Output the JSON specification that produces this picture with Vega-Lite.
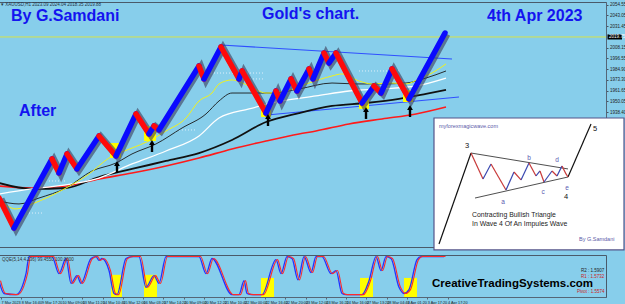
{
  "$schema": "https://vega.github.io/schema/vega-lite/v6.json",
  "background": "#87ceeb",
  "padding": {"left": -14, "top": 1, "right": 0, "bottom": 0},
  "spacing": 8,
  "bounds": "flush",
  "config": {
    "view": {"stroke": "#4a5a6a", "strokeWidth": 1},
    "font": "Liberation Sans",
    "axis": {"labelFont": "Liberation Sans", "grid": false, "title": null}
  },
  "datasets": {
    "renko": [
      {"s":0,"d":"down","x":0,"p":1845.8},{"s":0,"d":"down","x":15,"p":1813.4},
      {"s":1,"d":"up","x":15,"p":1813.4},{"s":1,"d":"up","x":53,"p":1888.0},
      {"s":2,"d":"down","x":53,"p":1888.0},{"s":2,"d":"down","x":60,"p":1872.8},
      {"s":3,"d":"up","x":60,"p":1872.8},{"s":3,"d":"up","x":68,"p":1893.4},
      {"s":4,"d":"down","x":68,"p":1893.4},{"s":4,"d":"down","x":78,"p":1877.2},
      {"s":5,"d":"up","x":78,"p":1877.2},{"s":5,"d":"up","x":100,"p":1912.8},
      {"s":6,"d":"down","x":100,"p":1912.8},{"s":6,"d":"down","x":117,"p":1891.2},
      {"s":7,"d":"up","x":117,"p":1891.2},{"s":7,"d":"up","x":137,"p":1936.6},
      {"s":8,"d":"down","x":137,"p":1936.6},{"s":8,"d":"down","x":150,"p":1915.0},
      {"s":9,"d":"up","x":150,"p":1915.0},{"s":9,"d":"up","x":155,"p":1923.6},
      {"s":10,"d":"down","x":155,"p":1923.6},{"s":10,"d":"down","x":160,"p":1919.3},
      {"s":11,"d":"up","x":160,"p":1919.3},{"s":11,"d":"up","x":200,"p":1988.4},
      {"s":12,"d":"down","x":200,"p":1988.4},{"s":12,"d":"down","x":205,"p":1974.4},
      {"s":13,"d":"up","x":205,"p":1974.4},{"s":13,"d":"up","x":222,"p":2008.9},
      {"s":14,"d":"down","x":222,"p":2008.9},{"s":14,"d":"down","x":240,"p":1974.4},
      {"s":15,"d":"up","x":240,"p":1974.4},{"s":15,"d":"up","x":243,"p":1983.0},
      {"s":16,"d":"down","x":243,"p":1983.0},{"s":16,"d":"down","x":267,"p":1937.6},
      {"s":17,"d":"up","x":267,"p":1937.6},{"s":17,"d":"up","x":277,"p":1961.4},
      {"s":18,"d":"down","x":277,"p":1961.4},{"s":18,"d":"down","x":281,"p":1950.6},
      {"s":19,"d":"up","x":281,"p":1950.6},{"s":19,"d":"up","x":292,"p":1974.4},
      {"s":20,"d":"down","x":292,"p":1974.4},{"s":20,"d":"down","x":298,"p":1961.4},
      {"s":21,"d":"up","x":298,"p":1961.4},{"s":21,"d":"up","x":310,"p":1985.2},
      {"s":22,"d":"down","x":310,"p":1985.2},{"s":22,"d":"down","x":314,"p":1974.4},
      {"s":23,"d":"up","x":314,"p":1974.4},{"s":23,"d":"up","x":325,"p":2002.4},
      {"s":24,"d":"down","x":325,"p":2002.4},{"s":24,"d":"down","x":330,"p":1991.6},
      {"s":25,"d":"up","x":330,"p":1991.6},{"s":25,"d":"up","x":337,"p":2002.4},
      {"s":26,"d":"down","x":337,"p":2002.4},{"s":26,"d":"down","x":363,"p":1948.4},
      {"s":27,"d":"up","x":363,"p":1948.4},{"s":27,"d":"up","x":375,"p":1966.8},
      {"s":28,"d":"down","x":375,"p":1966.8},{"s":28,"d":"down","x":382,"p":1959.2},
      {"s":29,"d":"up","x":382,"p":1959.2},{"s":29,"d":"up","x":393,"p":1985.2},
      {"s":30,"d":"down","x":393,"p":1985.2},{"s":30,"d":"down","x":410,"p":1952.8},
      {"s":31,"d":"up","x":410,"p":1952.8},{"s":31,"d":"up","x":446,"p":2024.0}
    ],
    "ma": [
      {"m":"yellow","x":0,"p":1844.8},{"m":"yellow","x":17,"p":1834.0},{"m":"yellow","x":33,"p":1839.4},{"m":"yellow","x":67,"p":1856.6},{"m":"yellow","x":90,"p":1871.8},{"m":"yellow","x":110,"p":1889.0},{"m":"yellow","x":133,"p":1899.8},{"m":"yellow","x":150,"p":1907.4},{"m":"yellow","x":167,"p":1918.2},{"m":"yellow","x":187,"p":1932.2},{"m":"yellow","x":200,"p":1950.6},{"m":"yellow","x":213,"p":1959.2},{"m":"yellow","x":220,"p":1969.0},{"m":"yellow","x":233,"p":1973.3},{"m":"yellow","x":250,"p":1966.8},{"m":"yellow","x":267,"p":1959.2},{"m":"yellow","x":287,"p":1961.4},{"m":"yellow","x":310,"p":1970.0},{"m":"yellow","x":333,"p":1977.6},{"m":"yellow","x":343,"p":1979.8},{"m":"yellow","x":360,"p":1972.2},{"m":"yellow","x":373,"p":1969.0},{"m":"yellow","x":393,"p":1970.0},{"m":"yellow","x":407,"p":1969.0},{"m":"yellow","x":420,"p":1974.4},{"m":"yellow","x":433,"p":1980.8},{"m":"yellow","x":447,"p":1990.6},
      {"m":"thin","x":0,"p":1842.6},{"m":"thin","x":20,"p":1839.4},{"m":"thin","x":40,"p":1845.8},{"m":"thin","x":67,"p":1856.6},{"m":"thin","x":93,"p":1875.0},{"m":"thin","x":117,"p":1883.6},{"m":"thin","x":133,"p":1893.4},{"m":"thin","x":157,"p":1904.2},{"m":"thin","x":183,"p":1921.4},{"m":"thin","x":207,"p":1936.6},{"m":"thin","x":220,"p":1950.6},{"m":"thin","x":233,"p":1959.2},{"m":"thin","x":250,"p":1959.2},{"m":"thin","x":273,"p":1959.2},{"m":"thin","x":300,"p":1963.6},{"m":"thin","x":333,"p":1970.0},{"m":"thin","x":357,"p":1969.0},{"m":"thin","x":383,"p":1969.0},{"m":"thin","x":407,"p":1970.0},{"m":"thin","x":427,"p":1975.4},{"m":"thin","x":447,"p":1983.0},
      {"m":"white","x":0,"p":1850.2},{"m":"white","x":33,"p":1855.6},{"m":"white","x":73,"p":1861.0},{"m":"white","x":100,"p":1867.4},{"m":"white","x":133,"p":1882.6},{"m":"white","x":167,"p":1896.6},{"m":"white","x":200,"p":1912.8},{"m":"white","x":220,"p":1932.2},{"m":"white","x":250,"p":1942.0},{"m":"white","x":283,"p":1950.6},{"m":"white","x":317,"p":1956.0},{"m":"white","x":350,"p":1961.4},{"m":"white","x":383,"p":1963.6},{"m":"white","x":417,"p":1966.8},{"m":"white","x":447,"p":1975.4},
      {"m":"thick","x":0,"p":1862.0},{"m":"thick","x":33,"p":1855.6},{"m":"thick","x":67,"p":1856.6},{"m":"thick","x":100,"p":1868.5},{"m":"thick","x":133,"p":1877.2},{"m":"thick","x":167,"p":1885.8},{"m":"thick","x":200,"p":1894.4},{"m":"thick","x":233,"p":1908.5},{"m":"thick","x":267,"p":1927.9},{"m":"thick","x":300,"p":1937.6},{"m":"thick","x":333,"p":1945.2},{"m":"thick","x":367,"p":1948.4},{"m":"thick","x":400,"p":1952.8},{"m":"thick","x":427,"p":1958.2},{"m":"thick","x":447,"p":1962.5},
      {"m":"red","x":0,"p":1858.8},{"m":"red","x":33,"p":1856.6},{"m":"red","x":67,"p":1858.8},{"m":"red","x":100,"p":1866.4},{"m":"red","x":133,"p":1872.8},{"m":"red","x":167,"p":1880.4},{"m":"red","x":200,"p":1889.0},{"m":"red","x":233,"p":1898.8},{"m":"red","x":267,"p":1907.4},{"m":"red","x":300,"p":1915.0},{"m":"red","x":317,"p":1918.2},{"m":"red","x":350,"p":1925.8},{"m":"red","x":383,"p":1931.2},{"m":"red","x":417,"p":1936.6},{"m":"red","x":447,"p":1944.1}
    ],
    "zig": [
      {"s":0,"w":"fall","x":472,"p":1894.4},{"s":0,"w":"fall","x":484,"p":1866.4},
      {"s":1,"w":"rise","x":484,"p":1866.4},{"s":1,"w":"rise","x":492,"p":1882.6},
      {"s":2,"w":"fall","x":492,"p":1882.6},{"s":2,"w":"fall","x":507,"p":1854.5},
      {"s":3,"w":"rise","x":507,"p":1854.5},{"s":3,"w":"rise","x":515,"p":1873.9},
      {"s":4,"w":"fall","x":515,"p":1873.9},{"s":4,"w":"fall","x":522,"p":1865.3},
      {"s":5,"w":"rise","x":522,"p":1865.3},{"s":5,"w":"rise","x":530,"p":1883.6},
      {"s":6,"w":"fall","x":530,"p":1883.6},{"s":6,"w":"fall","x":537,"p":1869.6},
      {"s":7,"w":"rise","x":537,"p":1869.6},{"s":7,"w":"rise","x":541,"p":1875.0},
      {"s":8,"w":"fall","x":541,"p":1875.0},{"s":8,"w":"fall","x":545,"p":1863.1},
      {"s":9,"w":"rise","x":545,"p":1863.1},{"s":9,"w":"rise","x":553,"p":1875.0},
      {"s":10,"w":"fall","x":553,"p":1875.0},{"s":10,"w":"fall","x":558,"p":1869.6},
      {"s":11,"w":"rise","x":558,"p":1869.6},{"s":11,"w":"rise","x":563,"p":1880.4},
      {"s":12,"w":"fall","x":563,"p":1880.4},{"s":12,"w":"fall","x":567,"p":1871.8},
      {"s":13,"w":"fall","x":567,"p":1871.8},{"s":13,"w":"fall","x":569,"p":1868.5}
    ],
    "osc": [
      {"x":0,"v":38},{"x":5,"v":5},{"x":17,"v":2},{"x":27,"v":56},{"x":30,"v":100},{"x":53,"v":100},{"x":60,"v":56},{"x":67,"v":95},{"x":72,"v":31},{"x":78,"v":51},{"x":82,"v":31},{"x":92,"v":95},{"x":97,"v":100},{"x":100,"v":90},{"x":103,"v":95},{"x":110,"v":64},{"x":115,"v":5},{"x":118,"v":2},{"x":127,"v":95},{"x":133,"v":100},{"x":140,"v":100},{"x":147,"v":21},{"x":155,"v":51},{"x":160,"v":31},{"x":167,"v":100},{"x":200,"v":100},{"x":207,"v":56},{"x":213,"v":95},{"x":233,"v":2},{"x":240,"v":2},{"x":245,"v":38},{"x":248,"v":5},{"x":253,"v":2},{"x":263,"v":2},{"x":277,"v":92},{"x":282,"v":56},{"x":288,"v":100},{"x":293,"v":95},{"x":299,"v":40},{"x":305,"v":100},{"x":312,"v":59},{"x":317,"v":100},{"x":323,"v":100},{"x":332,"v":56},{"x":337,"v":64},{"x":343,"v":5},{"x":347,"v":2},{"x":363,"v":2},{"x":370,"v":38},{"x":377,"v":100},{"x":382,"v":64},{"x":387,"v":100},{"x":392,"v":95},{"x":400,"v":21},{"x":405,"v":5},{"x":410,"v":15},{"x":418,"v":92},{"x":422,"v":100},{"x":445,"v":100}
    ]
  },
  "vconcat": [
    {
      "width": 607,
      "height": 245,
      "resolve": {"scale": {"color": "independent"}},
      "encoding": {
        "x": {"field": "x", "type": "quantitative", "scale": {"domain": [0, 607], "nice": false, "zero": false}, "axis": null},
        "y": {"field": "p", "type": "quantitative", "scale": {"domain": [1792.9, 2057.5], "nice": false, "zero": false},
          "axis": {"orient": "right", "values": [2054.55, 2043.05, 2031.45, 2008.15, 1996.55, 1984.9, 1973.3, 1961.65, 1950.05, 1938.4],
            "format": ".2f", "labelFontSize": 4.5, "labelColor": "#222", "tickSize": 2, "tickColor": "#445566", "domainColor": "#556677", "labelPadding": 1.5}}
      },
      "layer": [
        {"data": {"values": [{"x": 0, "x2": 607, "p": 2019.75}]}, "mark": {"type": "rule", "color": "#d6e24a", "strokeWidth": 1}, "encoding": {"x2": {"field": "x2"}}},
        {"data": {"values": [{"x": 212, "x2": 265, "p": 1980.8}, {"x": 50, "x2": 67, "p": 1864.2}, {"x": 30, "x2": 45, "p": 1829.6}, {"x": 180, "x2": 197, "p": 1919.3}, {"x": 360, "x2": 400, "p": 1983.0}, {"x": 248, "x2": 264, "p": 1974.4}]},
          "mark": {"type": "rule", "color": "#f4f8ff", "strokeWidth": 1, "strokeDash": [1, 2], "opacity": 0.8}, "encoding": {"x2": {"field": "x2"}}},
        {"data": {"values": [{"x": 222, "p": 2011.1, "x2": 453, "p2": 1996.0}, {"x": 268, "p": 1935.5, "x2": 460, "p2": 1954.9}]},
          "mark": {"type": "rule", "color": "#2f4fff", "strokeWidth": 1.1}, "encoding": {"x2": {"field": "x2"}, "y2": {"field": "p2"}}},
        {"data": {"name": "ma"}, "transform": [{"filter": "datum.m == 'red'"}], "mark": {"type": "line", "color": "#ff1a1a", "strokeWidth": 1.6, "interpolate": "monotone"}},
        {"data": {"name": "ma"}, "transform": [{"filter": "datum.m == 'thick'"}], "mark": {"type": "line", "color": "#111111", "strokeWidth": 1.8, "interpolate": "monotone"}},
        {"data": {"name": "ma"}, "transform": [{"filter": "datum.m == 'white'"}], "mark": {"type": "line", "color": "#ffffff", "strokeWidth": 1.3, "interpolate": "monotone"}},
        {"data": {"name": "ma"}, "transform": [{"filter": "datum.m == 'thin'"}], "mark": {"type": "line", "color": "#1a1a1a", "strokeWidth": 0.9, "interpolate": "monotone"}},
        {"data": {"name": "ma"}, "transform": [{"filter": "datum.m == 'yellow'"}], "mark": {"type": "line", "color": "#f2f21a", "strokeWidth": 1, "interpolate": "monotone"}},
        {"data": {"values": [{"x": 111, "x2": 122, "p": 1905.2, "p2": 1889.0}, {"x": 145, "x2": 157, "p": 1923.6, "p2": 1907.4}, {"x": 262, "x2": 272, "p": 1946.3, "p2": 1933.3}, {"x": 360, "x2": 370, "p": 1953.8, "p2": 1942.0}, {"x": 404, "x2": 414, "p": 1962.5, "p2": 1949.5}]},
          "mark": {"type": "rect", "color": "#ffff00"}, "encoding": {"x2": {"field": "x2"}, "y2": {"field": "p2"}}},
        {"data": {"name": "renko"}, "mark": {"type": "line", "color": "#3c3c58", "strokeWidth": 7, "opacity": 0.6, "xOffset": 2, "yOffset": 1, "strokeJoin": "miter"}},
        {"data": {"name": "renko"}, "mark": {"type": "line", "strokeWidth": 5.5, "strokeCap": "round"},
          "encoding": {"detail": {"field": "s"}, "color": {"field": "d", "type": "nominal", "scale": {"domain": ["up", "down"], "range": ["#0a0aff", "#ff0a0a"]}, "legend": null}}},
        {"data": {"values": [{"x": 118, "p": 1882.6, "p2": 1872.8}, {"x": 153, "p": 1905.2, "p2": 1895.5}, {"x": 269, "p": 1933.3, "p2": 1923.6}, {"x": 367, "p": 1940.9, "p2": 1931.2}, {"x": 411, "p": 1943.0, "p2": 1933.3}]},
          "mark": {"type": "rule", "color": "#000000", "strokeWidth": 2.4}, "encoding": {"y2": {"field": "p2"}}},
        {"data": {"values": [{"x": 118, "p": 1883.1}, {"x": 153, "p": 1905.8}, {"x": 269, "p": 1933.9}, {"x": 367, "p": 1941.4}, {"x": 411, "p": 1943.6}]},
          "mark": {"type": "point", "shape": "triangle-up", "filled": true, "color": "#000000", "size": 34, "opacity": 1}},
        {"data": {"values": [{"t": "By G.Samdani", "x": 12, "p": 2037.0}, {"t": "Gold's chart.", "x": 263, "p": 2039.2}, {"t": "4th Apr 2023", "x": 488, "p": 2037.0}, {"t": "After", "x": 20, "p": 1934.4}]},
          "mark": {"type": "text", "align": "left", "baseline": "alphabetic", "fontSize": 16, "fontWeight": "bold", "color": "#1414f0", "font": "Liberation Sans"}, "encoding": {"text": {"field": "t"}}},
        {"data": {"values": [{"t": "\u25be XAUUSD,H1  2023.09 2024.04 2018.35 2019.88", "x": 2, "p": 2053.2}]},
          "mark": {"type": "text", "align": "left", "baseline": "alphabetic", "fontSize": 4.5, "color": "#223344"}, "encoding": {"text": {"field": "t"}}},
        {"data": {"values": [{"x": 608.5, "x2": 623, "p": 2022.5, "p2": 2017.0}]},
          "mark": {"type": "rect", "color": "#000000"}, "encoding": {"x2": {"field": "x2"}, "y2": {"field": "p2"}}},
        {"data": {"values": [{"t": "2019.75", "x": 610, "p": 2019.75}]},
          "mark": {"type": "text", "align": "left", "baseline": "middle", "fontSize": 4.5, "color": "#ffffff"}, "encoding": {"text": {"field": "t"}}},
        {"data": {"values": [{"x": 435, "x2": 625, "p": 1932.2, "p2": 1789.7}]},
          "mark": {"type": "rect", "fill": "#ffffff", "stroke": "#55558a", "strokeWidth": 1.2}, "encoding": {"x2": {"field": "x2"}, "y2": {"field": "p2"}}},
        {"data": {"values": [{"x": 440, "p": 1796.2, "x2": 472, "p2": 1894.4}, {"x": 569, "p": 1868.5, "x2": 592, "p2": 1925.8}]},
          "mark": {"type": "rule", "color": "#111111", "strokeWidth": 1.2}, "encoding": {"x2": {"field": "x2"}, "y2": {"field": "p2"}}},
        {"data": {"values": [{"x": 472, "p": 1894.4, "x2": 569, "p2": 1877.2}, {"x": 476, "p": 1845.8, "x2": 569, "p2": 1868.5}]},
          "mark": {"type": "rule", "color": "#222222", "strokeWidth": 0.8}, "encoding": {"x2": {"field": "x2"}, "y2": {"field": "p2"}}},
        {"data": {"name": "zig"}, "mark": {"type": "line", "strokeWidth": 1.2},
          "encoding": {"detail": {"field": "s"}, "color": {"field": "w", "type": "nominal", "scale": {"domain": ["rise", "fall"], "range": ["#3a48b0", "#c83a3a"]}, "legend": null}}},
        {"data": {"values": [{"t": "myforexmagicwave.com", "x": 440, "p": 1921.4}, {"t": "By G.Samdani", "x": 580, "p": 1799.4}]},
          "mark": {"type": "text", "align": "left", "baseline": "alphabetic", "fontSize": 5.5, "color": "#5a5aa8"}, "encoding": {"text": {"field": "t"}}},
        {"data": {"values": [{"t": "Contracting Bullish Triangle", "x": 473, "p": 1825.3}, {"t": "In Wave 4 Of An Impules Wave", "x": 473, "p": 1815.6}]},
          "mark": {"type": "text", "align": "left", "baseline": "alphabetic", "fontSize": 6.9, "color": "#222222"}, "encoding": {"text": {"field": "t"}}},
        {"data": {"values": [{"t": "3", "x": 468, "p": 1899.8}, {"t": "5", "x": 596, "p": 1918.2}, {"t": "4", "x": 567, "p": 1844.8}]},
          "mark": {"type": "text", "align": "center", "baseline": "alphabetic", "fontSize": 7.5, "fill": "#111111"}, "encoding": {"text": {"field": "t"}}},
        {"data": {"values": [{"t": "a", "x": 504, "p": 1839.4}, {"t": "b", "x": 530, "p": 1886.9}, {"t": "c", "x": 544, "p": 1850.2}, {"t": "d", "x": 558, "p": 1884.7}, {"t": "e", "x": 568, "p": 1854.5}]},
          "mark": {"type": "text", "align": "center", "baseline": "alphabetic", "fontSize": 6.5, "color": "#5a5ab0"}, "encoding": {"text": {"field": "t"}}}
      ]
    },
    {
      "width": 607,
      "height": 42,
      "data": {"name": "osc"},
      "encoding": {
        "x": {"field": "x", "type": "quantitative", "scale": {"domain": [0, 607], "nice": false, "zero": false},
          "axis": {"values": [2, 22.3, 42.6, 62.9, 83.2, 103.5, 123.8, 144.1, 164.4, 184.7, 205, 225.3, 245.6, 265.9, 286.2, 306.5, 326.8, 347.1, 367.4, 387.7, 408, 428.3, 448.6],
            "labelExpr": "['7 Mar 2023','8 Mar 16:40','9 Mar 17:20','10 Mar 09:00','13 Mar 11:20','14 Mar 10:40','15 Mar 12:00','16 Mar 03:20','17 Mar 14:20','20 Mar 09:00','20 Mar 12:20','21 Mar 10:40','22 Mar 00:00','22 Mar 16:40','22 Mar 20:00','23 Mar 12:00','23 Mar 16:20','24 Mar 16:00','27 Mar 13:20','28 Mar 04:40','3 Apr 01:20','3 Apr 17:20','4 Apr 17:20'][indexof([2, 22.3, 42.6, 62.9, 83.2, 103.5, 123.8, 144.1, 164.4, 184.7, 205, 225.3, 245.6, 265.9, 286.2, 306.5, 326.8, 347.1, 367.4, 387.7, 408, 428.3, 448.6], datum.value)]",
            "labelFontSize": 3.8, "labelAlign": "left", "labelPadding": 1, "tickSize": 2, "labelColor": "#222", "domainColor": "#556677", "tickColor": "#556677", "labelOverlap": false, "labelBound": false, "labelFlush": false}},
        "y": {"field": "v", "type": "quantitative", "scale": {"domain": [-4, 104], "nice": false, "zero": false}, "axis": null}
      },
      "layer": [
        {"data": {"values": [{"x": 112, "x2": 123, "v": 53}, {"x": 145, "x2": 158, "v": 53}, {"x": 262, "x2": 275, "v": 45}, {"x": 361, "x2": 374, "v": 45}, {"x": 405, "x2": 418, "v": 45}]},
          "mark": {"type": "rect", "color": "#ffff00"}, "encoding": {"x2": {"field": "x2"}, "y2": {"datum": -4}}},
        {"data": {"values": [{"v": 90}, {"v": 80}, {"v": 15}, {"v": 5}]},
          "mark": {"type": "rule", "color": "#e06a78", "strokeWidth": 1}, "encoding": {"x": {"datum": 0}, "x2": {"datum": 607}}},
        {"mark": {"type": "line", "color": "#2233ff", "strokeWidth": 1.3, "interpolate": "monotone"}},
        {"mark": {"type": "line", "color": "#ff2a2a", "strokeWidth": 1.1, "interpolate": "monotone", "xOffset": 1.5}},
        {"data": {"values": [{"t": "QQE(5,14,4.236) 99.4550 100.0000", "x": 3, "v": 88.6}]},
          "mark": {"type": "text", "align": "left", "baseline": "alphabetic", "fontSize": 4.5, "color": "#333333"}, "encoding": {"text": {"field": "t"}}},
        {"data": {"values": [{"t": "CreativeTradingSystems.com", "x": 433, "v": 21.7}]},
          "mark": {"type": "text", "align": "left", "baseline": "alphabetic", "fontSize": 11.5, "fontWeight": "bold", "color": "#000000", "font": "Liberation Sans"}, "encoding": {"text": {"field": "t"}}},
        {"data": {"values": [{"t": "R2 : 1.5907", "x": 582, "v": 60}]},
          "mark": {"type": "text", "align": "left", "baseline": "alphabetic", "fontSize": 4.5, "color": "#222222"}, "encoding": {"text": {"field": "t"}}},
        {"data": {"values": [{"t": "R1 : 1.5732", "x": 582, "v": 44}, {"t": "Pivot : 1.5574", "x": 578, "v": 6.3}]},
          "mark": {"type": "text", "align": "left", "baseline": "alphabetic", "fontSize": 4.5, "color": "#d02020"}, "encoding": {"text": {"field": "t"}}}
      ]
    }
  ]
}
